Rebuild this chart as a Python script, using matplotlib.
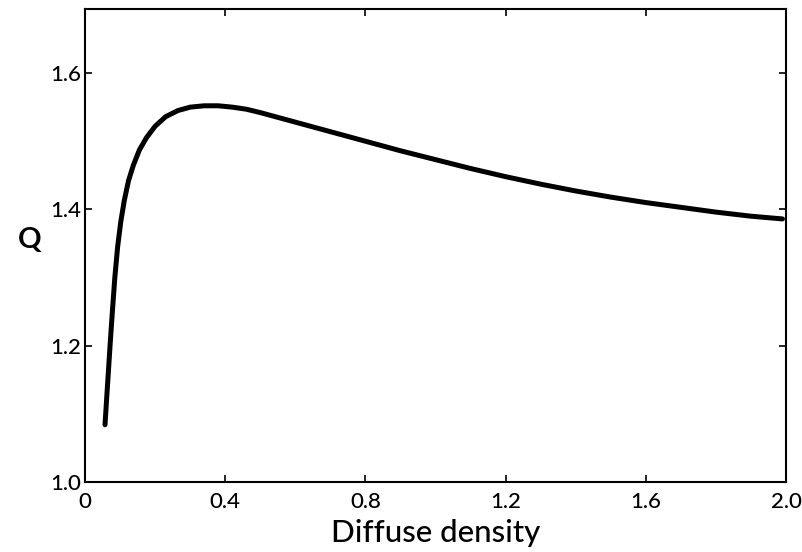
import matplotlib
matplotlib.use("Agg")
import matplotlib.pyplot as plt

# values
density = [0.057, 0.062, 0.067, 0.072, 0.078, 0.085, 0.093, 0.102, 0.112, 0.124,
           0.138, 0.155, 0.175, 0.200, 0.230, 0.265, 0.300, 0.340, 0.380, 0.420,
           0.460, 0.500, 0.550, 0.600, 0.700, 0.800, 0.900, 1.000, 1.100, 1.200,
           1.300, 1.400, 1.500, 1.600, 1.700, 1.800, 1.900, 1.990]
q_value = [1.084, 1.125, 1.165, 1.205, 1.250, 1.300, 1.345, 1.382, 1.413, 1.442,
           1.465, 1.487, 1.505, 1.522, 1.536, 1.545, 1.550, 1.552, 1.552, 1.550,
           1.547, 1.542, 1.535, 1.528, 1.514, 1.500, 1.486, 1.473, 1.460, 1.448,
           1.437, 1.427, 1.418, 1.410, 1.403, 1.396, 1.390, 1.386]

x_ticks = [0, 0.4, 0.8, 1.2, 1.6, 2.0]
x_labels = ["0", "0.4", "0.8", "1.2", "1.6", "2.0"]
y_ticks = [1.0, 1.2, 1.4, 1.6]
y_labels = ["1.0", "1.2", "1.4", "1.6"]

plt.rcParams['font.family'] = ['Lato', 'DejaVu Sans']

fig = plt.figure(figsize=(8.03, 5.52), dpi=100)
ax = fig.add_axes([0.1059, 0.1268, 0.8729, 0.8569])

ax.plot(density, q_value, color="black", lw=3.6,
        solid_capstyle="round", solid_joinstyle="round")

ax.set_xlim(0, 2.0)
ax.set_ylim(1.0, 1.694)
ax.set_xticks(x_ticks)
ax.set_xticklabels(x_labels)
ax.set_yticks(y_ticks)
ax.set_yticklabels(y_labels)
ax.tick_params(direction="in", length=5, width=1.2, top=True, right=True,
               labelsize=16)
ax.tick_params(axis="x", pad=7)
ax.tick_params(axis="y", pad=3)
for lab in ax.get_xticklabels() + ax.get_yticklabels():
    lab.set_fontweight("medium")
for s in ax.spines.values():
    s.set_linewidth(1.5)

ax.set_xlabel("Diffuse density", fontsize=22.5, fontweight="medium", labelpad=5)
fig.text(0.037, 0.565, "Q", fontsize=21, fontweight="bold", ha="center", va="center")

fig.savefig("out.png", dpi=100)
